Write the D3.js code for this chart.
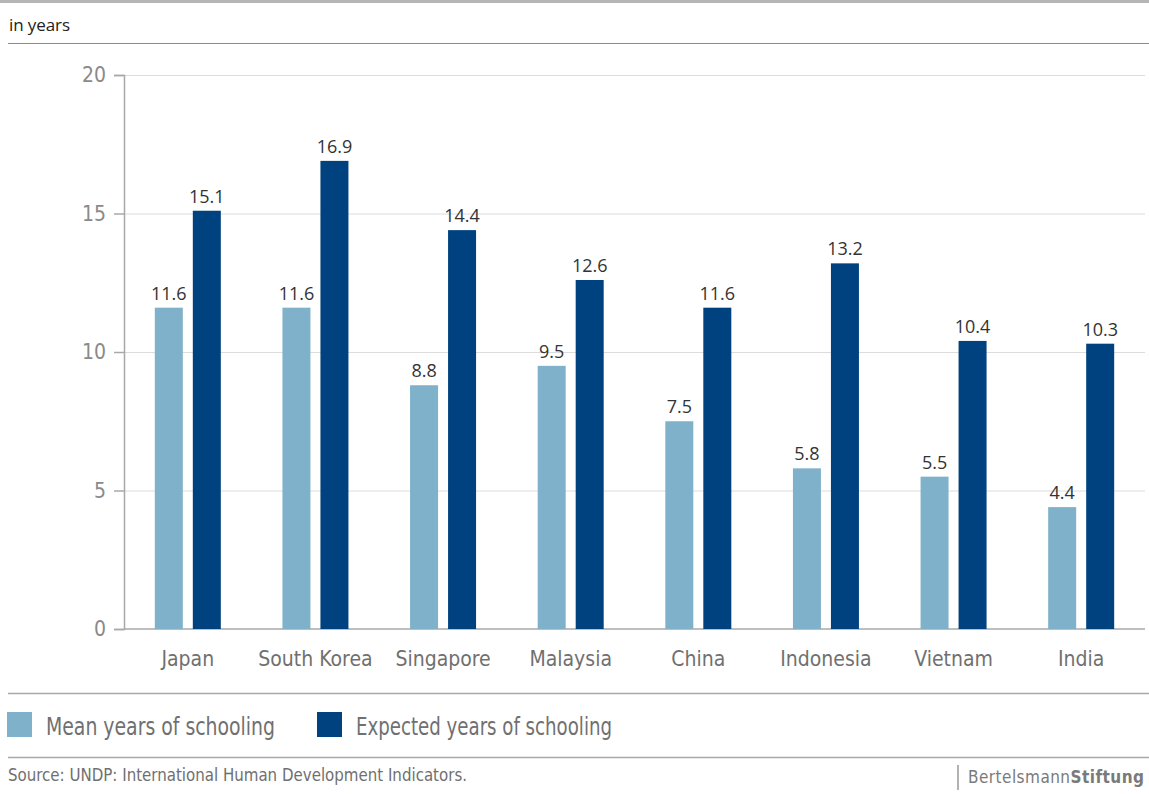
<!DOCTYPE html>
<html>
<head>
<meta charset="utf-8">
<script src="https://cdn.jsdelivr.net/npm/d3@7"></script>
<style>
  body { margin: 0; background: #fff; }
  svg { display: block; font-family: "DejaVu Sans Condensed", "Liberation Sans Narrow", sans-serif; }
</style>
</head>
<body>
<div id="vis"></div>
<script>
const countries = ["Japan", "South Korea", "Singapore", "Malaysia", "China", "Indonesia", "Vietnam", "India"];
const mean_years = [11.6, 11.6, 8.8, 9.5, 7.5, 5.8, 5.5, 4.4];
const expected_years = [15.1, 16.9, 14.4, 12.6, 11.6, 13.2, 10.4, 10.3];
const y_ticks = [0, 5, 10, 15, 20];
const series_names = ["Mean years of schooling", "Expected years of schooling"];

const frame_width = 1149;
const frame_height = 794;
const margins = {left: 124, right: 4, top: 75, bottom: 165};
const colors = ["#7fb1cb", "#00427f"];

const svg = d3.select("#vis")
  .append("svg")
    .attr("width", frame_width)
    .attr("height", frame_height);

// header and rule lines
svg.append("rect").attr("x", 0).attr("y", 0).attr("width", frame_width).attr("height", 3).attr("fill", "#b5b5b5");
svg.append("text").attr("x", 9).attr("y", 31).attr("font-size", 17).attr("fill", "#222")
  .style("font-family", "'Open Sans', sans-serif").attr("textLength", 61).text("in years");
svg.append("line").attr("x1", 8).attr("x2", frame_width).attr("y1", 43.5).attr("y2", 43.5)
  .attr("stroke", "#8a8a8a").attr("stroke-width", 1);

const x_scale = d3.scaleBand()
  .domain(countries)
  .range([margins.left, frame_width - margins.right]);

const y_scale = d3.scaleLinear()
  .domain([0, 20])
  .range([frame_height - margins.bottom, margins.top]);

// gridlines
svg.append("g")
  .selectAll("line")
  .data(y_ticks.filter(d => d > 0))
  .enter()
  .append("line")
    .attr("x1", margins.left)
    .attr("x2", frame_width - margins.right)
    .attr("y1", d => y_scale(d) + 0.5)
    .attr("y2", d => y_scale(d) + 0.5)
    .attr("stroke", "#dcdcdc");

// y axis
const y_axis = svg.append("g")
  .attr("transform", "translate(" + margins.left + ",0)")
  .call(d3.axisLeft(y_scale).tickValues(y_ticks).tickSize(10).tickPadding(8));
y_axis.select(".domain").attr("stroke", "#a8a8a8").attr("stroke-width", 1.5);
y_axis.selectAll(".tick line").attr("stroke", "#a8a8a8").attr("stroke-width", 1.5);
y_axis.selectAll(".tick text").attr("font-size", 21).attr("fill", "#8a8a8a")
  .style("font-family", "'DejaVu Sans Condensed', sans-serif");

// baseline
svg.append("line")
  .attr("x1", margins.left).attr("x2", frame_width - margins.right)
  .attr("y1", y_scale(0)).attr("y2", y_scale(0))
  .attr("stroke", "#a8a8a8").attr("stroke-width", 1.5);

const bar_w = 28;
const gap = 10;
const groups = svg.append("g")
  .selectAll("g")
  .data(countries.map((c, i) => ({c: c, vals: [mean_years[i], expected_years[i]]})))
  .enter()
  .append("g");

groups.selectAll("rect")
  .data(d => d.vals.map((v, j) => ({c: d.c, v: v, j: j})))
  .enter()
  .append("rect")
    .attr("x", d => x_scale(d.c) + x_scale.bandwidth() / 2 - gap / 2 - bar_w + d.j * (bar_w + gap))
    .attr("y", d => y_scale(d.v))
    .attr("width", bar_w)
    .attr("height", d => y_scale(0) - y_scale(d.v))
    .attr("fill", d => colors[d.j]);

groups.selectAll("text")
  .data(d => d.vals.map((v, j) => ({c: d.c, v: v, j: j})))
  .enter()
  .append("text")
    .attr("x", d => x_scale(d.c) + x_scale.bandwidth() / 2 - gap / 2 - bar_w / 2 + d.j * (bar_w + gap))
    .attr("y", d => y_scale(d.v) - 8)
    .attr("text-anchor", "middle")
    .attr("font-size", 18)
    .attr("fill", "#333")
    .style("font-family", "'Open Sans', sans-serif")
    .text(d => d.v.toFixed(1));

// category labels
svg.append("g")
  .selectAll("text")
  .data(countries)
  .enter()
  .append("text")
    .attr("x", d => x_scale(d) + x_scale.bandwidth() / 2)
    .attr("y", 666)
    .attr("text-anchor", "middle")
    .attr("font-size", 21)
    .attr("fill", "#707070")
    .text(d => d);

// legend
svg.append("line").attr("x1", 8).attr("x2", frame_width).attr("y1", 693.5).attr("y2", 693.5)
  .attr("stroke", "#a8a8a8").attr("stroke-width", 1.5);
const legend_x = [7, 317];
const legend_w = [229, 256];
const legend = svg.append("g").selectAll("g").data(series_names).enter().append("g")
  .attr("transform", (d, i) => "translate(" + legend_x[i] + ",712)");
legend.append("rect").attr("width", 25).attr("height", 25).attr("fill", (d, i) => colors[i]);
legend.append("text").attr("x", 39).attr("y", 23).attr("font-size", 24).attr("fill", "#707070")
  .attr("textLength", (d, i) => legend_w[i]).attr("lengthAdjust", "spacingAndGlyphs")
  .text(d => d);

svg.append("line").attr("x1", 8).attr("x2", frame_width).attr("y1", 757.5).attr("y2", 757.5)
  .attr("stroke", "#a8a8a8").attr("stroke-width", 1.5);

svg.append("text").attr("x", 8).attr("y", 781).attr("font-size", 17).attr("fill", "#707070")
  .attr("textLength", 459).attr("lengthAdjust", "spacingAndGlyphs")
  .text("Source: UNDP: International Human Development Indicators.");

svg.append("line").attr("x1", 958).attr("x2", 958).attr("y1", 765).attr("y2", 790)
  .attr("stroke", "#999").attr("stroke-width", 1.5);
const brand = svg.append("text").attr("x", 968).attr("y", 783).attr("font-size", 17).attr("fill", "#7a7a7a")
  .style("font-family", "'DejaVu Sans Condensed', sans-serif")
  .attr("textLength", 176).attr("lengthAdjust", "spacing");
brand.append("tspan").text("Bertelsmann");
brand.append("tspan").attr("font-weight", "bold").text("Stiftung");
</script>
</body>
</html>
